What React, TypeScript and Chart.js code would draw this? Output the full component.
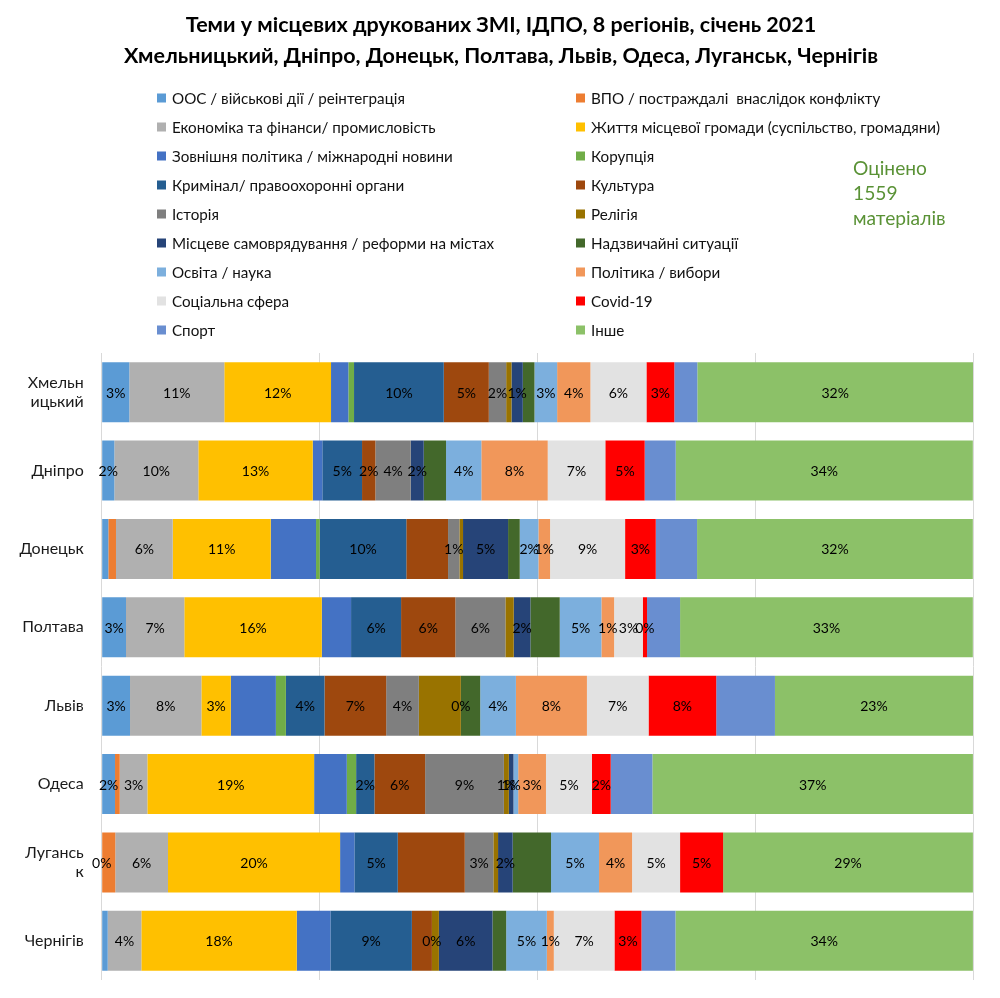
import React, { useEffect, useRef } from "react";
import { Chart, registerables } from "chart.js";

Chart.register(...registerables);

const titleLines = [
  "Теми у місцевих друкованих ЗМІ, ІДПО, 8 регіонів, січень 2021",
  "Хмельницький, Дніпро, Донецьк, Полтава, Львів, Одеса, Луганськ, Чернігів",
];

const noteLines = ["Оцінено", "1559", "матеріалів"];

const regions: (string | string[])[] = [
  ["Хмельн", "ицький"],
  "Дніпро",
  "Донецьк",
  "Полтава",
  "Львів",
  "Одеса",
  ["Лугансь", "к"],
  "Чернігів",
];

const topics = [
  "ООС / військові дії / реінтеграція",
  "ВПО / постраждалі  внаслідок конфлікту",
  "Економіка та фінанси/ промисловість",
  "Життя місцевої громади (суспільство, громадяни)",
  "Зовнішня політика / міжнародні новини",
  "Корупція",
  "Кримінал/ правоохоронні органи",
  "Культура",
  "Історія",
  "Релігія",
  "Місцеве самоврядування / реформи на містах",
  "Надзвичайні ситуації",
  "Освіта / наука",
  "Політика / вибори",
  "Соціальна сфера",
  "Covid-19",
  "Спорт",
  "Інше",
];

const colors = [
  "#5B9BD5", "#ED7D31", "#B0B0B0", "#FFC000", "#4472C4", "#70AD47",
  "#255E91", "#9E480E", "#7F7F7F", "#997300", "#264478", "#43682B",
  "#7CAFDD", "#F1975A", "#E2E2E2", "#FF0000", "#698ED0", "#8CC168",
];

// shares (%) per region, in topic order
const khmelnytskyi = [3.17, 0, 10.9, 12.25, 1.99, 0.65, 10.3, 5.17, 1.99, 0.61, 1.3, 1.34, 2.6, 3.82, 6.43, 3.2, 2.64, 31.65];
const dnipro = [1.45, 0, 9.64, 13.13, 1.1, 0, 4.56, 1.53, 4.06, 0, 1.49, 2.56, 4.05, 7.62, 6.61, 4.52, 3.56, 34.1];
const donetsk = [0.76, 0.88, 6.51, 11.25, 5.2, 0.42, 9.94, 4.79, 1.3, 0.42, 5.17, 1.34, 2.14, 1.34, 8.61, 3.52, 4.74, 31.65];
const poltava = [2.79, 0, 6.69, 15.78, 3.36, 0, 5.74, 6.23, 5.74, 0.96, 1.91, 3.37, 4.78, 1.46, 3.29, 0.49, 3.79, 33.6];
const lviv = [3.25, 0, 8.19, 3.38, 5.17, 1.15, 4.43, 7.08, 3.75, 4.82, 0, 2.22, 4.1, 8.15, 7.07, 7.77, 6.74, 22.73];
const odesa = [1.53, 0.54, 3.17, 19.14, 3.75, 1.07, 2.1, 5.82, 9.04, 0.57, 0.53, 0, 0.54, 3.19, 5.28, 2.15, 4.78, 36.79];
const luhansk = [0, 1.56, 6.05, 19.75, 1.64, 0, 4.98, 7.69, 3.28, 0.54, 1.68, 4.4, 5.51, 3.79, 5.51, 4.94, 0, 28.67];
const chernihiv = [0.69, 0, 3.86, 17.84, 3.86, 0, 9.35, 2.3, 0, 0.8, 6.15, 1.57, 4.67, 0.8, 6.96, 3.1, 3.9, 34.14];

// data labels as printed on the chart ('' = no label)
const khmelnytskyiLabels = ["3%", "", "11%", "12%", "", "", "10%", "5%", "2%", "", "1%", "", "3%", "4%", "6%", "3%", "", "32%"];
const dniproLabels = ["2%", "", "10%", "13%", "", "", "5%", "2%", "4%", "", "2%", "", "4%", "8%", "7%", "5%", "", "34%"];
const donetskLabels = ["", "", "6%", "11%", "", "", "10%", "", "1%", "", "5%", "", "2%", "1%", "9%", "3%", "", "32%"];
const poltavaLabels = ["3%", "", "7%", "16%", "", "", "6%", "6%", "6%", "", "2%", "", "5%", "1%", "3%", "0%", "", "33%"];
const lvivLabels = ["3%", "", "8%", "3%", "", "", "4%", "7%", "4%", "", "0%", "", "4%", "8%", "7%", "8%", "", "23%"];
const odesaLabels = ["2%", "", "3%", "19%", "", "", "2%", "6%", "9%", "1%", "1%", "", "", "3%", "5%", "2%", "", "37%"];
const luhanskLabels = ["0%", "", "6%", "20%", "", "", "5%", "", "3%", "", "2%", "", "5%", "4%", "5%", "5%", "", "29%"];
const chernihivLabels = ["", "", "4%", "18%", "", "", "9%", "", "0%", "", "6%", "", "5%", "1%", "7%", "3%", "", "34%"];

const regionValues = [khmelnytskyi, dnipro, donetsk, poltava, lviv, odesa, luhansk, chernihiv];
const regionLabels = [khmelnytskyiLabels, dniproLabels, donetskLabels, poltavaLabels, lvivLabels, odesaLabels, luhanskLabels, chernihivLabels];

const FONT = "Lato, 'Open Sans', sans-serif";

const decorPlugin = {
  id: "decor",
  afterDatasetsDraw(chart: any) {
    const ctx = chart.ctx;
    ctx.save();
    ctx.fillStyle = "#000";
    ctx.font = `14px ${FONT}`;
    ctx.textAlign = "center";
    ctx.textBaseline = "middle";
    chart.data.datasets.forEach((ds: any, i: number) => {
      const meta = chart.getDatasetMeta(i);
      meta.data.forEach((el: any, j: number) => {
        const txt = regionLabels[j][i];
        if (!txt) return;
        const cx = (el.x + el.base) / 2;
        ctx.fillText(txt, cx, el.y + 1);
      });
    });
    ctx.restore();
  },
  afterDraw(chart: any) {
    const ctx = chart.ctx;
    ctx.save();
    // title
    ctx.fillStyle = "#000";
    ctx.textAlign = "center";
    ctx.textBaseline = "middle";
    ctx.font = `bold 21.5px ${FONT}`;
    ctx.fillText(titleLines[0], 501, 25);
    ctx.fillText(titleLines[1], 501, 56);
    // legend (two columns, row-major)
    ctx.font = `15.2px ${FONT}`;
    ctx.textAlign = "left";
    topics.forEach((t, i) => {
      const col = i % 2;
      const row = Math.floor(i / 2);
      const bx = col === 0 ? 157 : 576;
      const cy = 98 + row * 29;
      ctx.fillStyle = colors[i];
      ctx.fillRect(bx, cy - 4.5, 9, 9);
      ctx.fillStyle = "#111";
      ctx.fillText(t, bx + 15, cy + 1);
    });
    // note
    ctx.fillStyle = "#5A9236";
    ctx.font = `19.2px ${FONT}`;
    noteLines.forEach((l, k) => {
      ctx.fillText(l, 853, 169 + k * 25);
    });
    ctx.restore();
  },
};

export default function App() {
  const ref = useRef<HTMLCanvasElement>(null);
  useEffect(() => {
    document.body.style.margin = "0";
    const chart = new Chart(ref.current as HTMLCanvasElement, {
      type: "bar",
      data: {
        labels: regions as any,
        datasets: topics.map((t, i) => ({
          label: t,
          data: regionValues.map((r) => r[i]),
          backgroundColor: colors[i],
          borderWidth: 0,
          categoryPercentage: 1,
          barPercentage: 0.765,
        })),
      },
      options: {
        indexAxis: "y",
        responsive: false,
        animation: false,
        layout: { padding: { left: 0, right: 27, top: 353, bottom: 18 } },
        plugins: {
          legend: { display: false },
          title: { display: false },
          tooltip: { enabled: false },
        },
        scales: {
          x: {
            stacked: true,
            min: 0,
            max: 100,
            ticks: { display: false, stepSize: 25 },
            grid: { color: "#D9D9D9", drawTicks: false, lineWidth: 1 },
            border: { display: false },
            afterFit: (s: any) => {
              s.height = 0;
              s.paddingLeft = 0;
              s.paddingRight = 0;
            },
          },
          y: {
            stacked: true,
            grid: { display: false },
            border: { display: false },
            ticks: {
              color: "#1a1a1a",
              font: { family: FONT, size: 16 },
              padding: 10,
            },
            afterFit: (s: any) => {
              s.width = 101.7;
              s.paddingTop = 0;
              s.paddingBottom = 0;
            },
          },
        },
      },
      plugins: [decorPlugin],
    });
    return () => chart.destroy();
  }, []);
  return (
    <canvas
      ref={ref}
      width={1000}
      height={998}
      style={{ display: "block", width: "1000px", height: "998px" }}
    />
  );
}
